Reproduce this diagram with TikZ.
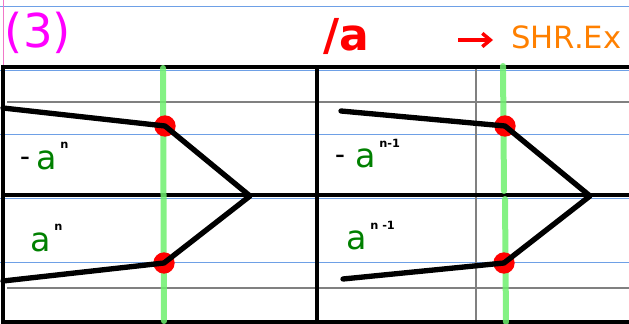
\documentclass[tikz,border=0pt]{standalone}
\usepackage{fontspec}
\setmainfont{DejaVu Sans}
\usetikzlibrary{arrows.meta}
\definecolor{bluel}{RGB}{110,160,230}
\definecolor{grayl}{RGB}{128,128,128}
\definecolor{greenl}{RGB}{110,240,110}
\definecolor{labgreen}{RGB}{0,128,0}
\definecolor{orng}{RGB}{255,128,0}
\definecolor{magn}{RGB}{255,0,255}
\definecolor{pinkl}{RGB}{240,120,200}
\begin{document}
\begin{tikzpicture}[x=0.75pt,y=-0.75pt,
  ruled/.style={draw=bluel,line width=0.75pt},
  grid/.style={draw=grayl,line width=1.5pt},
  frame/.style={draw=black,line width=2.4pt},
  wedge/.style={draw=black,line width=4pt,line cap=round,line join=round},
  guide/.style={draw=greenl,line width=4.5pt,opacity=0.85,line cap=round},
  dot/.style={circle,fill=red,inner sep=0pt,minimum size=16pt},
  lab/.style={text=labgreen,font=\fontsize{25}{25}\selectfont,inner sep=0pt},
  sup/.style={text=black,font=\bfseries\fontsize{8.5}{8.5}\selectfont,inner sep=0pt,anchor=west},
  minus/.style={text=black,font=\bfseries\fontsize{14}{14}\selectfont,inner sep=0pt}]
\useasboundingbox (0,0) rectangle (629,324);
% ruled paper lines
\foreach \yy in {7,71,135,199,263} \draw[ruled] (0,\yy) -- (629,\yy);
\draw[draw=pinkl,line width=0.75pt] (3,0) -- (3,67);
% grey lines
\draw[grid] (7,102) -- (629,102);
\draw[grid] (7,288) -- (629,288);
\draw[grid] (476,67) -- (476,322);
% frame
\draw[frame] (3,67) rectangle (632,322);
\draw[frame] (317,67) -- (317,322);
\draw[frame] (3,195) -- (629,195);
% green guides
\draw[guide] (163,68) -- (164,321);
\draw[guide] (503,66) -- (504,191);
\draw[guide] (505,199) -- (506,322);
% wedges
\node[dot] (l1) at (165,126) {};
\node[dot] (l2) at (164,263) {};
\node[dot] (r1) at (505,126) {};
\node[dot] (r2) at (504,263) {};
\coordinate (la) at (250,196);
\coordinate (ra) at (590,196);
\coordinate (ls) at (3,108);
\coordinate (le) at (3,281);
\coordinate (rs) at (341,111);
\coordinate (re) at (343,279);
\draw[wedge] (ls) -- (l1.center) -- (la) -- (l2.center) -- (le);
\draw[wedge] (rs) -- (r1.center) -- (ra) -- (r2.center) -- (re);
% header
\node[text=magn,font=\fontsize{35}{35}\selectfont,inner sep=0pt] (h3) at (38,33) {(3)};
\node[text=red,font=\bfseries\fontsize{33}{33}\selectfont,inner sep=0pt] (ha) at (346,37) {/a};
\node[text=orng,font=\fontsize{23}{23}\selectfont,inner sep=0pt,anchor=west] (hs) at (511,37) {SHR.Ex};
\coordinate (aro) at (458,40);
\coordinate (arend) at (493,40);
\draw[draw=red,line width=2.6pt,-{Straight Barb[length=6pt,width=10pt]}] (aro) -- (arend);
% labels
\node[minus] (m1) at (25,160) {–};
\node[lab] (a1) at (47,160) {a};
\node[sup] (n1) at (60,145) {n};
\node[lab] (a2) at (41,242) {a};
\node[sup] (n2) at (54,227) {n};
\node[minus] (m3) at (340,158) {–};
\node[lab] (a3) at (366,158) {a};
\node[sup] (n3) at (379,143) {n-1};
\node[lab] (a4) at (357,240) {a};
\node[sup] (n4) at (370,225) {n -1};
\end{tikzpicture}
\end{document}
